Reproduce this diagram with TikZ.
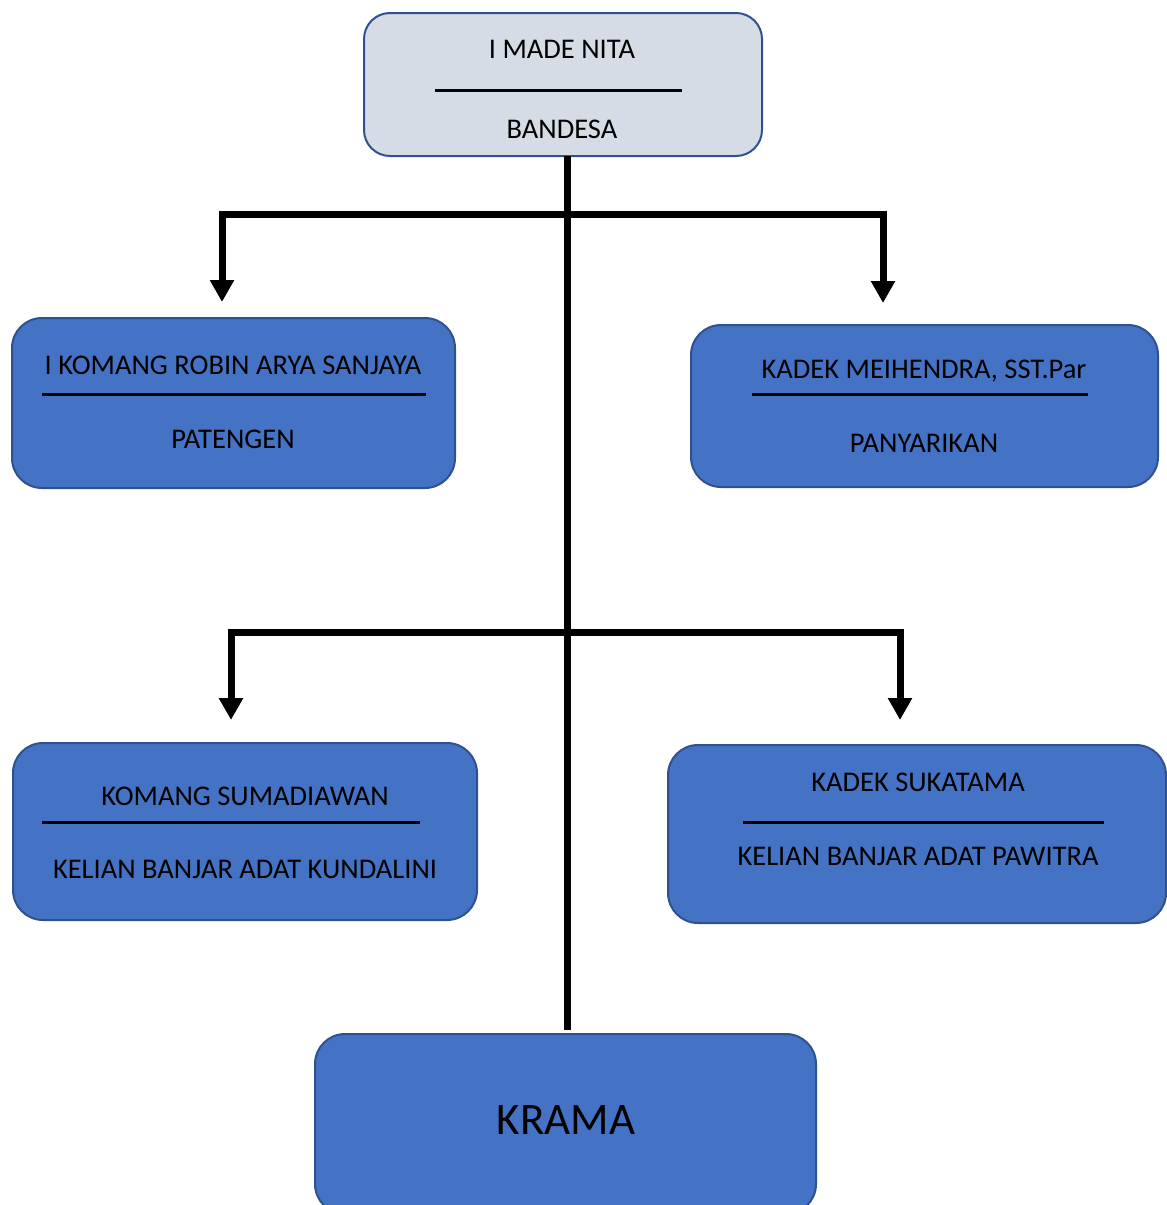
\documentclass[tikz,border=0pt]{standalone}
\usepackage{fontspec}
\setmainfont{Carlito}
\usetikzlibrary{arrows.meta}
\definecolor{boxblue}{HTML}{4472C4}
\definecolor{boxedge}{HTML}{2F528F}
\definecolor{topfill}{HTML}{D6DCE5}
\tikzset{
  orgbox/.style={draw=boxedge, line width=2pt, fill=boxblue, rounded corners=30pt, inner sep=0pt},
  topbox/.style={orgbox, fill=topfill, rounded corners=26pt},
  lbl/.style={anchor=base, inner sep=0pt, font=\fontsize{28.5}{34}\selectfont},
  divider/.style={line width=3pt},
  conn/.style={line width=7pt, line join=miter},
  arr/.style={conn, -{Triangle[width=23pt,length=22pt]}}
}
\begin{document}
\begin{tikzpicture}[x=1pt,y=-1pt]
\useasboundingbox (0,0) rectangle (1167,1205);
\clip (0,0) rectangle (1167,1205);
% boxes
\node[topbox, minimum width=398pt, minimum height=143pt] (top) at (563,84.5) {};
\node[orgbox, minimum width=443pt, minimum height=170pt] (l1) at (233.5,403) {};
\node[orgbox, minimum width=467pt, minimum height=162pt] (r1) at (924.5,406) {};
\node[orgbox, minimum width=464pt, minimum height=177pt] (l2) at (245,831.5) {};
\node[orgbox, minimum width=498pt, minimum height=178pt] (r2) at (917,834) {};
\node[orgbox, minimum width=501pt, minimum height=180pt] (kr) at (565.5,1124) {};
% labels
\node[lbl] (topa) at (562,58) {I MADE NITA};
\node[lbl] (topb) at (562,138) {BANDESA};
\draw[divider] (435,90) -- (682,90);
\node[lbl] (l1a) at (233,374) {I KOMANG ROBIN ARYA SANJAYA};
\node[lbl] (l1b) at (233,448) {PATENGEN};
\draw[divider] (42,394) -- (426,394);
\node[lbl] (r1a) at (924,378) {KADEK MEIHENDRA, SST.Par};
\node[lbl] (r1b) at (924,452) {PANYARIKAN};
\draw[divider] (752,394) -- (1088,394);
\node[lbl] (l2a) at (245,805) {KOMANG SUMADIAWAN};
\node[lbl] (l2b) at (245,878) {KELIAN BANJAR ADAT KUNDALINI};
\draw[divider] (42,822) -- (420,822);
\node[lbl] (r2a) at (918,791) {KADEK SUKATAMA};
\node[lbl] (r2b) at (918,865) {KELIAN BANJAR ADAT PAWITRA};
\draw[divider] (743,822) -- (1104,822);
\node[anchor=base, inner sep=0pt, font=\fontsize{45}{54}\selectfont] (kra) at (566,1134) {KRAMA};
% connectors
\coordinate (s) at (567,156);
\coordinate (e) at (567,1030);
\coordinate (j1) at (567,214);
\coordinate (j2) at (567,632);
\coordinate (a1) at (222,302);
\coordinate (a2) at (883,303);
\coordinate (a3) at (231,720);
\coordinate (a4) at (900,720);
\draw[conn] (s) -- (e);
\draw[arr] (j1) -- (j1 -| a1) -- (a1);
\draw[arr] (j1) -- (j1 -| a2) -- (a2);
\draw[arr] (j2) -- (j2 -| a3) -- (a3);
\draw[arr] (j2) -- (j2 -| a4) -- (a4);
\end{tikzpicture}
\end{document}
